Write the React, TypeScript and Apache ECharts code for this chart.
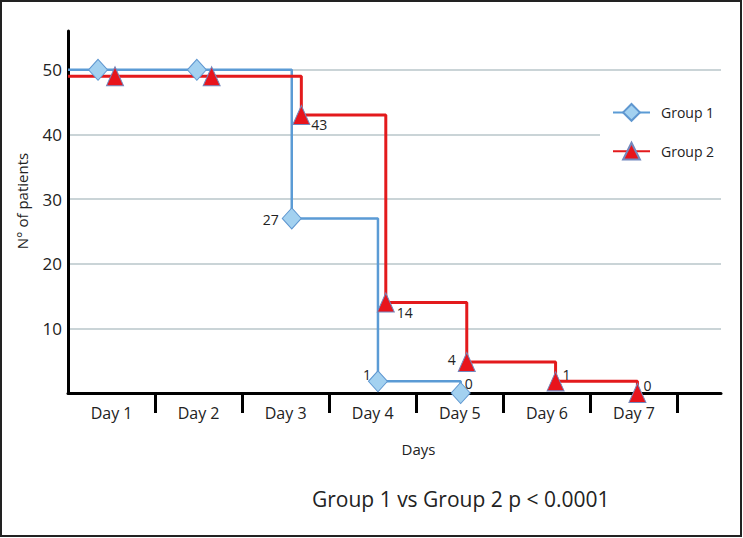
import React, { useEffect, useRef } from "react";
import * as echarts from "echarts";

const DAYS = ["Day 1", "Day 2", "Day 3", "Day 4", "Day 5", "Day 6", "Day 7"];
const DAY_CENTERS = [0.5, 1.5, 2.5, 3.5, 4.5, 5.5, 6.5];
const DAY_BOUNDS = [1, 2, 3, 4, 5, 6, 7];
const Y_TICKS = [10, 20, 30, 40, 50];

const G1_X = [0, 0.345, 1.48, 2.57, 3.56, 4.51];
const G1_Y = [50, 50, 50, 27, 1.8, 0];
const G1_LABELS = ["", "", "", "27", "1", "0"];

const G2_X = [0, 0.54, 1.65, 2.68, 3.65, 4.58, 5.6, 6.54];
const G2_Y = [49, 49, 49, 43, 14, 4.8, 1.8, 0];
const G2_LABELS = ["", "", "", "43", "14", "4", "1", "0"];

// label offsets (layout only)
const G1_OFFSETS: number[][] = [[0, 0], [0, 0], [0, 0], [-21, 1], [-11, -7], [8, -10]];
const G2_OFFSETS: number[][] = [[0, 0], [0, 0], [0, 0], [18, 9], [19, 10], [-15, -2], [11, -7], [10, -8]];

const FONT = "'Open Sans', 'Noto Sans', sans-serif";
const TXT = "#222";

function buildData(xs: number[], ys: number[], labels: string[], offsets: number[][]) {
  return xs.map((x, i) => {
    const item: any = { value: [x, ys[i]] };
    if (i === 0) item.symbol = "none";
    if (labels[i]) {
      item.label = {
        show: true,
        position: "inside",
        align: "center",
        verticalAlign: "middle",
        offset: offsets[i],
        formatter: labels[i],
        color: TXT,
        fontSize: 14,
        fontFamily: FONT,
      };
    }
    return item;
  });
}

export default function App() {
  const ref = useRef<HTMLDivElement>(null);
  useEffect(() => {
    if (!ref.current) return;
    const chart = echarts.init(ref.current, undefined, { renderer: "svg" });
    chart.setOption({
      animation: false,
      backgroundColor: "#fff",
      textStyle: { fontFamily: FONT },
      title: {
        text: "Group 1 vs Group 2 p < 0.0001",
        left: 307,
        top: 483,
        textStyle: { fontSize: 21, fontWeight: "normal", color: TXT, fontFamily: FONT },
      },
      graphic: [
        {
          type: "rect",
          shape: { x: 1, y: 1, width: 740, height: 535 },
          style: { fill: "none", stroke: "#222", lineWidth: 2 },
          z: 100,
        },
      ],
      legend: {
        orient: "vertical",
        left: 600,
        top: 94,
        padding: [9, 10, 9, 12],
        itemGap: 20,
        itemWidth: 37,
        itemHeight: 21,
        backgroundColor: "#fff",
        textStyle: { fontSize: 14, color: TXT, fontFamily: FONT, padding: [0, 0, 0, 6] },
        data: ["Group 1", "Group 2"],
      },
      grid: { left: 68, right: 22, top: 31, bottom: 145, containLabel: false },
      xAxis: {
        type: "value",
        min: 0,
        max: 7.5,
        name: "Days",
        nameLocation: "middle",
        nameGap: 48,
        nameTextStyle: { fontSize: 15, color: TXT, fontFamily: FONT, padding: [0, 0, 0, 48] },
        axisLine: { lineStyle: { color: "#000", width: 3 } },
        axisTick: {
          show: true,
          customValues: DAY_BOUNDS,
          length: 20,
          lineStyle: { color: "#000", width: 3 },
        },
        axisLabel: {
          customValues: DAY_CENTERS,
          formatter: (v: number) => DAYS[Math.round(v - 0.5)] ?? "",
          fontSize: 16,
          color: TXT,
          fontFamily: FONT,
          margin: 12,
        },
        splitLine: { show: false },
      },
      yAxis: {
        type: "value",
        min: 0,
        max: 56,
        interval: 10,
        name: "N° of patients",
        nameLocation: "middle",
        nameGap: 39,
        nameRotate: 90,
        nameTextStyle: { fontSize: 15, color: TXT, fontFamily: FONT, padding: [0, 0, 0, 22] },
        axisLine: { show: true, lineStyle: { color: "#000", width: 3 } },
        axisTick: { show: false },
        axisLabel: {
          customValues: Y_TICKS,
          fontSize: 17,
          color: TXT,
          fontFamily: FONT,
          margin: 6,
        },
        splitLine: {
          show: true,
          showMinLine: false,
          showMaxLine: false,
          lineStyle: { color: "#b9c6ca", width: 1.5 },
        },
      },
      series: [
        {
          name: "Group 1",
          type: "line",
          step: "end",
          data: buildData(G1_X, G1_Y, G1_LABELS, G1_OFFSETS),
          symbol: "diamond",
          symbolSize: [19, 21],
          lineStyle: { color: "#5b9bd5", width: 2.5 },
          itemStyle: { color: "#a3d1f0", borderColor: "#5f97d0", borderWidth: 1 },
        },
        {
          name: "Group 2",
          type: "line",
          step: "end",
          data: buildData(G2_X, G2_Y, G2_LABELS, G2_OFFSETS),
          symbol: "triangle",
          symbolSize: [17, 19],
          lineStyle: { color: "#e31a1c", width: 3 },
          itemStyle: { color: "#e8141c", borderColor: "#7388bd", borderWidth: 1 },
        },
      ],
    });
    return () => chart.dispose();
  }, []);
  return (
    <div
      ref={ref}
      style={{ position: "absolute", left: 0, top: 0, width: 743, height: 538 }}
    />
  );
}
